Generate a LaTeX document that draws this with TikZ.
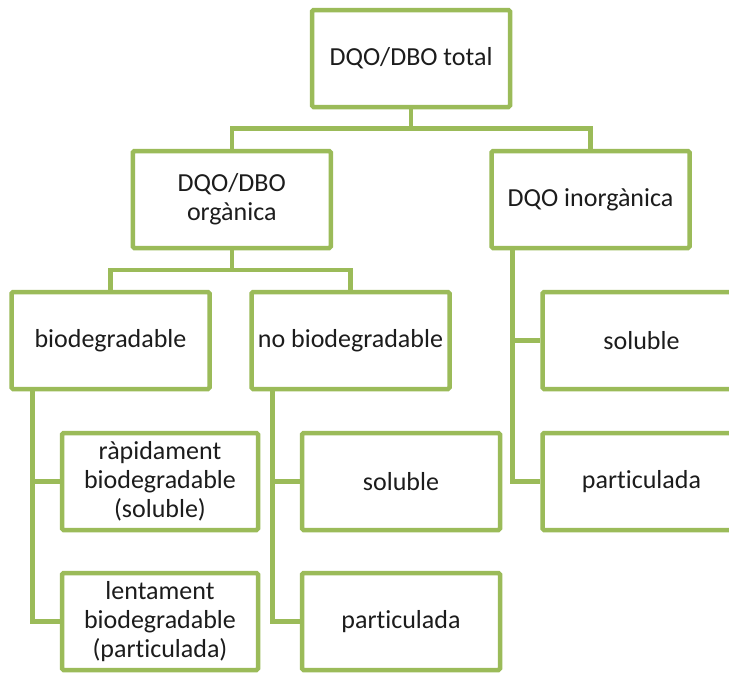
\documentclass[tikz,border=0pt]{standalone}
\usepackage{fontspec}
\setmainfont{Carlito}[Ligatures=NoCommon]
\definecolor{olive}{HTML}{9BBB59}
\definecolor{ink}{HTML}{1C1C1C}
\begin{document}
\begin{tikzpicture}[x=1pt,y=-1pt,
  box/.style={draw=olive,line width=4.5pt,fill=white,rounded corners=1.5pt,
    minimum width=198pt,minimum height=97pt,inner sep=0pt,align=center,
    text=ink,font=\fontsize{26}{29}\selectfont},
  link/.style={draw=olive,line width=4.5pt}]
\clip (0,0) rectangle (729,675);
\fill[white] (0,0) rectangle (729,675);

% tree nodes
\node[box] (total) at (411,58.5) {DQO/DBO total};
\node[box] (org)   at (231.75,199.5) {DQO/DBO\\orgànica};
\node[box] (inorg) at (590.5,199.5) {DQO inorgànica};
\node[box] (bio)   at (110.5,340.5) {biodegradable};
\node[box] (nobio) at (350.5,340.5) {no biodegradable};
\node[box] (solR)  at (641.5,340.5) {soluble};
\node[box,minimum width=196pt] (rapid) at (160,481.5) {ràpidament\\biodegradable\\(soluble)};
\node[box] (solM)  at (401,481.5) {soluble};
\node[box] (partR) at (641.5,481.5) {particulada};
\node[box,minimum width=196pt] (lent) at (160,621.5) {lentament\\biodegradable\\(particulada)};
\node[box] (partM) at (401,621.5) {particulada};

% junction points
\coordinate (j1) at (411,128.5);
\coordinate (j2) at (231.75,270);
\coordinate (vb) at (32.5,389);
\coordinate (vn) at (272.5,389);
\coordinate (vi) at (512.5,248);

% connectors
\draw[link] (total.south) -- (j1);
\draw[link] (org.north) |- (j1) -| (inorg.north);
\draw[link] (org.south) -- (j2);
\draw[link] (bio.north) |- (j2) -| (nobio.north);
\draw[link] (vb) |- (lent.west);
\draw[link] (vb |- rapid.west) -- (rapid.west);
\draw[link] (vn) |- (partM.west);
\draw[link] (vn |- solM.west) -- (solM.west);
\draw[link] (vi) |- (partR.west);
\draw[link] (vi |- solR.west) -- (solR.west);
\end{tikzpicture}
\end{document}
